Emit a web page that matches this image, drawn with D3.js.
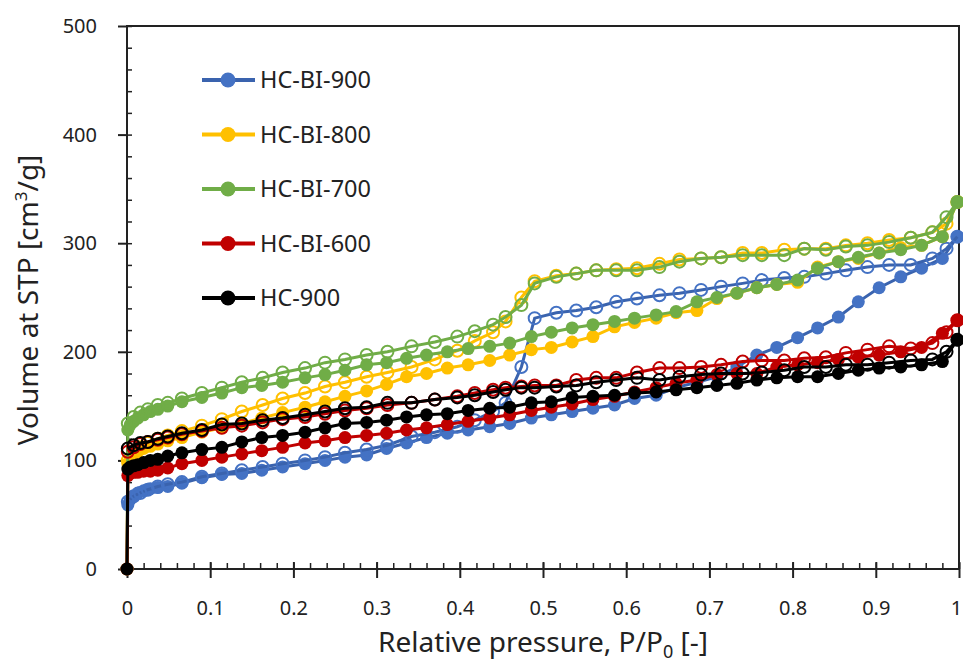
<!DOCTYPE html>
<html>
<head>
<meta charset="utf-8">
<script src="https://cdnjs.cloudflare.com/ajax/libs/d3/7.8.5/d3.min.js"></script>
<style>
  body { margin: 0; background: #fff; }
  svg text { font-family: "Noto Sans", "Open Sans", sans-serif; fill: #222; }
</style>
</head>
<body>
<svg id="chart" width="963" height="664"></svg>
<script>
// relative pressure points, adsorption branch
const pAds = [0, 0.001, 0.004, 0.008, 0.013, 0.02, 0.028, 0.037, 0.049, 0.066, 0.09, 0.114, 0.138, 0.162, 0.187,
  0.214, 0.238, 0.262, 0.288, 0.312, 0.336, 0.36, 0.385, 0.41, 0.436, 0.46, 0.486, 0.51, 0.535, 0.56, 0.586,
  0.61, 0.636, 0.66, 0.685, 0.709, 0.733, 0.757, 0.781, 0.806, 0.83, 0.855, 0.879, 0.904, 0.93, 0.955, 0.98, 0.998];
// relative pressure points, desorption branch
const pDes = [0.998, 0.985, 0.968, 0.942, 0.916, 0.89, 0.864, 0.84, 0.814, 0.79, 0.763, 0.74, 0.714, 0.69, 0.664,
  0.64, 0.613, 0.588, 0.564, 0.54, 0.516, 0.49, 0.474, 0.455, 0.44, 0.418, 0.397, 0.37, 0.342, 0.313, 0.288,
  0.262, 0.238, 0.214, 0.187, 0.163, 0.138, 0.114, 0.09, 0.066, 0.049, 0.037, 0.025, 0.016, 0.008, 0.001];

const names = ['HC-BI-900', 'HC-BI-800', 'HC-BI-700', 'HC-BI-600', 'HC-900'];
const markColors = ['#4472C4', '#FFC000', '#70AD47', '#C00000', '#000000'];
const lineColors = ['#3A63AE', '#FFC000', '#70AD47', '#C00000', '#000000'];

const adsBI900 = [0, 59, 64, 67, 70, 72, 74, 75, 76, 79, 84, 87, 88, 91, 94, 97, 100, 103, 105, 111, 116, 121, 125, 128,
  131, 134, 139, 142, 145, 148, 151, 157, 160, 167, 172, 177, 186, 197, 204, 213, 222, 232, 246, 259, 269, 277, 286, 306];
const desBI900 = [306, 295, 286, 280, 280, 278, 275, 272, 269, 268, 266, 263, 260, 257, 254, 252, 249, 246, 241, 238, 236,
  231, 186, 153, 145, 137, 131, 126, 122, 114, 110, 107, 103, 100, 97, 94, 91, 88, 85, 80, 78, 76, 73, 70, 67, 62];

const adsBI800 = [0, 97, 102, 105, 108, 111, 113, 115, 118, 121, 126, 130, 134, 139, 144, 149, 154, 159, 164, 170, 177,
  180, 185, 188, 192, 197, 202, 204, 209, 214, 223, 227, 231, 236, 238, 249, 254, 259, 262, 264, 278, 283, 286, 291, 296, 298, 306, 338];
const desBI800 = [338, 318, 310, 305, 303, 300, 298, 295, 295, 294, 291, 291, 287, 286, 285, 281, 277, 276, 275, 272, 270,
  265, 250, 228, 218, 210, 201, 193, 186, 181, 177, 172, 168, 162, 157, 151, 145, 138, 132, 127, 123, 120, 116, 112, 108, 100];

const adsBI700 = [0, 128, 133, 136, 139, 142, 145, 147, 150, 154, 158, 162, 167, 169, 172, 176, 179, 183, 188, 190, 194,
  197, 200, 203, 205, 208, 214, 218, 222, 225, 228, 231, 234, 237, 246, 250, 254, 259, 262, 266, 277, 283, 287, 291, 294, 298, 306, 338];
const desBI700 = [338, 324, 310, 305, 301, 298, 297, 294, 295, 289, 289, 289, 287, 286, 283, 278, 275, 275, 275, 272, 269,
  263, 243, 232, 225, 219, 214, 209, 205, 200, 197, 193, 190, 185, 181, 176, 172, 167, 162, 157, 153, 151, 147, 144, 140, 134];

const adsBI600 = [0, 86, 88, 89, 89, 90, 90, 91, 93, 97, 100, 103, 106, 109, 112, 116, 118, 121, 123, 125, 128, 130, 133,
  136, 139, 142, 146, 149, 152, 156, 159, 163, 167, 171, 174, 179, 180, 180, 186, 188, 190, 193, 195, 197, 200, 204, 217, 229];
const desBI600 = [229, 218, 208, 203, 205, 202, 199, 195, 194, 192, 192, 191, 188, 186, 185, 185, 181, 176, 176, 174, 169,
  169, 168, 167, 165, 162, 159, 156, 153, 151, 148, 146, 143, 140, 138, 135, 132, 130, 127, 124, 121, 119, 117, 115, 112, 108];

const adsHC900 = [0, 92, 94, 95, 96, 98, 100, 101, 104, 107, 110, 112, 117, 121, 123, 126, 130, 134, 135, 137, 140, 142, 143,
  146, 148, 149, 153, 154, 158, 159, 160, 162, 163, 165, 167, 169, 171, 174, 176, 177, 177, 180, 183, 185, 186, 188, 191, 211];
const desHC900 = [211, 200, 193, 192, 190, 188, 188, 186, 186, 183, 181, 180, 180, 179, 177, 174, 176, 174, 172, 169, 168,
  167, 167, 165, 163, 160, 158, 156, 153, 153, 149, 148, 145, 142, 139, 137, 134, 133, 128, 125, 122, 120, 117, 116, 114, 111];

const adsAll = [adsBI900, adsBI800, adsBI700, adsBI600, adsHC900];
const desAll = [desBI900, desBI800, desBI700, desBI600, desHC900];

const xTicks = [0, 0.1, 0.2, 0.3, 0.4, 0.5, 0.6, 0.7, 0.8, 0.9, 1];
const yTicks = [0, 100, 200, 300, 400, 500];

const svg = d3.select('#chart');
const plotLeft = 127, plotRight = 959, plotTop = 26, plotBottom = 569;

const x = d3.scaleLinear().domain([0, 1]).range([plotLeft, plotRight]);
const y = d3.scaleLinear().domain([0, 500]).range([plotBottom, plotTop]);

// frame
svg.append('rect')
  .attr('x', plotLeft).attr('y', plotTop)
  .attr('width', plotRight - plotLeft).attr('height', plotBottom - plotTop)
  .attr('fill', 'none').attr('stroke', '#222').attr('stroke-width', 2);

// minor ticks inside
const minorX = d3.range(0, 1.0001, 0.02);
const minorY = d3.range(0, 500.01, 20);
svg.append('g').attr('transform', `translate(0,${plotBottom})`)
  .call(d3.axisTop(x).tickValues(minorX).tickSize(6).tickFormat(''))
  .call(g => g.select('.domain').remove())
  .selectAll('line').attr('stroke', '#222').attr('stroke-width', 1.5);
svg.append('g').attr('transform', `translate(${plotLeft},0)`)
  .call(d3.axisRight(y).tickValues(minorY).tickSize(5).tickFormat(''))
  .call(g => g.select('.domain').remove())
  .selectAll('line').attr('stroke', '#222').attr('stroke-width', 1.5);

// major x ticks cross the axis
svg.append('g').attr('transform', `translate(0,${plotBottom})`)
  .call(d3.axisTop(x).tickValues(xTicks).tickSize(7).tickFormat(''))
  .call(g => g.select('.domain').remove())
  .selectAll('line').attr('stroke', '#222').attr('stroke-width', 2);

const xAxis = svg.append('g').attr('transform', `translate(0,${plotBottom})`)
  .call(d3.axisBottom(x).tickValues(xTicks).tickSize(9).tickPadding(23).tickFormat(d3.format('')));
xAxis.select('.domain').remove();
xAxis.selectAll('line').attr('stroke', '#222').attr('stroke-width', 2);
xAxis.selectAll('text').attr('font-size', 20).style('fill', '#222');
// last label sits at the page edge, nudge it inside
xAxis.selectAll('text').filter(d => d === 1).attr('dx', -3);

const yAxis = svg.append('g').attr('transform', `translate(${plotLeft},0)`)
  .call(d3.axisLeft(y).tickValues(yTicks).tickSize(9).tickPadding(21));
yAxis.select('.domain').remove();
yAxis.selectAll('line').attr('stroke', '#222').attr('stroke-width', 2);
yAxis.selectAll('text').attr('font-size', 20).style('fill', '#222');

// axis lines on top of ticks
svg.append('line').attr('x1', plotLeft).attr('x2', plotLeft).attr('y1', plotTop).attr('y2', plotBottom)
  .attr('stroke', '#222').attr('stroke-width', 2);
svg.append('line').attr('x1', plotLeft).attr('x2', plotRight).attr('y1', plotBottom).attr('y2', plotBottom)
  .attr('stroke', '#222').attr('stroke-width', 2);

// series
const line = d3.line().x(d => x(d[0])).y(d => y(d[1]));
const plot = svg.append('g');

names.forEach((name, i) => {
  const ads = pAds.map((p, j) => [p, adsAll[i][j]]);
  const des = pDes.map((p, j) => [p, desAll[i][j]]);

  plot.append('path')
    .attr('d', line(ads))
    .attr('fill', 'none')
    .attr('stroke', lineColors[i])
    .attr('stroke-width', 3);
  plot.append('g').selectAll('circle')
    .data(ads)
    .join('circle')
    .attr('cx', d => x(d[0]))
    .attr('cy', d => y(d[1]))
    .attr('r', 6.5)
    .attr('fill', markColors[i]);

  plot.append('path')
    .attr('d', line(des))
    .attr('fill', 'none')
    .attr('stroke', lineColors[i])
    .attr('stroke-width', 3);
  plot.append('g').selectAll('circle')
    .data(des)
    .join('circle')
    .attr('cx', d => x(d[0]))
    .attr('cy', d => y(d[1]))
    .attr('r', 6)
    .attr('fill', 'none')
    .attr('stroke', markColors[i])
    .attr('stroke-width', 2);
});

// legend
const legend = svg.append('g');
names.forEach((name, i) => {
  const ly = 80 + i * 54.5;
  legend.append('line')
    .attr('x1', 202).attr('x2', 255).attr('y1', ly).attr('y2', ly)
    .attr('stroke', lineColors[i]).attr('stroke-width', 4);
  legend.append('circle')
    .attr('cx', 228).attr('cy', ly).attr('r', 7.5)
    .attr('fill', markColors[i]);
  legend.append('text')
    .attr('x', 260).attr('y', ly).attr('dy', '0.35em')
    .attr('font-size', 23.5)
    .text(name);
});

// axis titles
const xTitle = svg.append('text')
  .attr('x', 543).attr('y', 652)
  .attr('text-anchor', 'middle')
  .attr('font-size', 28);
xTitle.append('tspan').text('Relative pressure, P/P');
xTitle.append('tspan').attr('font-size', 18).attr('dy', 6).text('0');
xTitle.append('tspan').attr('dy', -6).text(' [-]');

const yTitle = svg.append('text')
  .attr('transform', 'translate(38,300) rotate(-90)')
  .attr('text-anchor', 'middle')
  .attr('font-size', 28);
yTitle.append('tspan').text('Volume at STP [cm');
yTitle.append('tspan').attr('font-size', 17).attr('dy', -11).text('3');
yTitle.append('tspan').attr('dy', 11).text('/g]');
</script>
</body>
</html>
